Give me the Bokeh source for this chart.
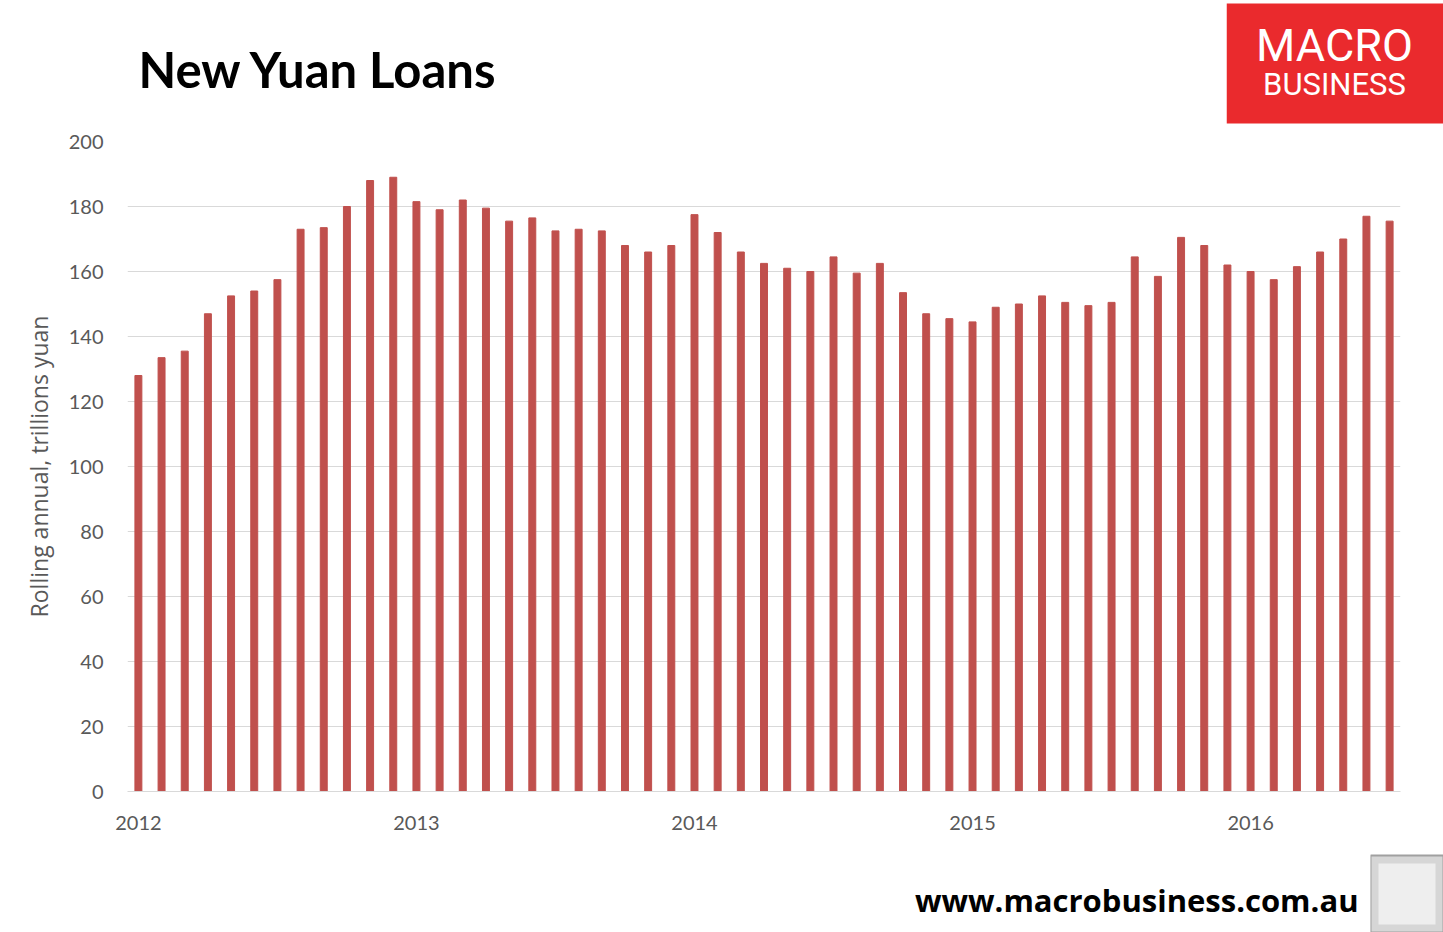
from bokeh.plotting import figure
from bokeh.models import Range1d, FixedTicker
from bokeh.layouts import column, row
from bokeh.core.properties import value
from bokeh.embed import file_html
from bokeh.resources import INLINE

years = ["2012", "2013", "2014", "2015", "2016"]
values = [
    128, 133.5, 135.5, 147, 152.5, 154, 157.5, 173, 173.5, 180, 188, 189,
    181.5, 179, 182, 179.5, 175.5, 176.5, 172.5, 173, 172.5, 168, 166, 168,
    177.5, 172, 166, 162.5, 161, 160, 164.5, 159.5, 162.5, 153.5, 147, 145.5,
    144.5, 149, 150, 152.5, 150.5, 149.5, 150.5, 164.5, 158.5, 170.5, 168, 162,
    160, 157.5, 161.5, 166, 170, 177, 175.5,
]
months = list(range(len(values)))
year_ticks = [12 * i for i in range(len(years))]

FONT = "Lato"
GREY = "#595959"
W = 1443


def blank(w, h):
    f = figure(width=w, height=h, output_backend="svg", toolbar_location=None,
               x_range=Range1d(0, w), y_range=Range1d(h, 0),
               min_border=0, min_border_left=0, min_border_right=0,
               min_border_top=0, min_border_bottom=0)
    f.axis.visible = False
    f.grid.visible = False
    f.outline_line_color = None
    return f


# ---------- header ----------
title_fig = blank(1226, 126)
title_fig.text(x=[138], y=[68], text=["New Yuan Loans"], text_font=value(FONT),
               text_font_style="bold", text_font_size="49px", text_color="black",
               text_baseline="alphabetic")
logo_fig = blank(217, 126)
logo_fig.quad(left=[0], right=[217], top=[3], bottom=[123],
              fill_color="#ea2a2d", line_color=None)
logo_fig.text(x=[108], y=[45], text=["MACRO"], text_font=value("Roboto"),
              text_font_size="45px", text_color="white", text_align="center",
              text_baseline="alphabetic")
logo_fig.text(x=[108], y=[83.6], text=["BUSINESS"], text_font=value("Roboto"),
              text_font_size="31px", text_color="white", text_align="center",
              text_baseline="alphabetic")
head = row(title_fig, logo_fig, spacing=0)

# ---------- main chart ----------
p = figure(width=W, height=725, output_backend="svg", toolbar_location=None,
           x_range=Range1d(-0.47, 54.47), y_range=Range1d(0, 200),
           min_border_left=127, min_border_right=43,
           min_border_top=15, min_border_bottom=60)
p.outline_line_color = None

p.vbar(x=months, top=values, width=0.3, color="#c0504d")

p.xaxis.ticker = FixedTicker(ticks=year_ticks)
p.xaxis.major_label_overrides = {t: y for t, y in zip(year_ticks, years)}
p.xaxis.major_tick_line_color = None
p.xaxis.minor_tick_line_color = None
p.xaxis.axis_line_color = "#d9d9d9"
p.xaxis.major_label_text_font = FONT
p.xaxis.major_label_text_font_size = "20px"
p.xaxis.major_label_text_color = GREY
p.xaxis.major_label_standoff = 18

p.yaxis.ticker = FixedTicker(ticks=list(range(0, 201, 20)))
p.yaxis.major_tick_line_color = None
p.yaxis.minor_tick_line_color = None
p.yaxis.axis_line_color = None
p.yaxis.major_label_text_font = FONT
p.yaxis.major_label_text_font_size = "20px"
p.yaxis.major_label_text_color = GREY
p.yaxis.major_label_standoff = 18
p.yaxis.axis_label = "Rolling annual, trillions yuan"
p.yaxis.axis_label_text_font = "Open Sans"
p.yaxis.axis_label_text_font_size = "23px"
p.yaxis.axis_label_text_font_style = "normal"
p.yaxis.axis_label_text_color = GREY
p.yaxis.axis_label_standoff = 11

p.xgrid.grid_line_color = None
p.ygrid.grid_line_color = "#d9d9d9"
p.ygrid.grid_line_width = 1

# ---------- footer ----------
url_fig = blank(1370, 81)
url_fig.text(x=[1358], y=[48], text=["www.macrobusiness.com.au"],
             text_font=value("Open Sans"), text_font_style="bold",
             text_font_size="31px", text_color="black",
             text_align="right", text_baseline="alphabetic")
fox_fig = blank(73, 81)
fox_fig.quad(left=[0], right=[73], top=[4], bottom=[81],
             fill_color="#d6d6d6", line_color="#a0a0a0", line_width=2)
fox_fig.quad(left=[8], right=[65], top=[12], bottom=[73],
             fill_color="#eeeeee", line_color=None)
foot = row(url_fig, fox_fig, spacing=0)

layout = column(head, p, foot, spacing=0)
open("out.html", "w").write(file_html(layout, INLINE))
